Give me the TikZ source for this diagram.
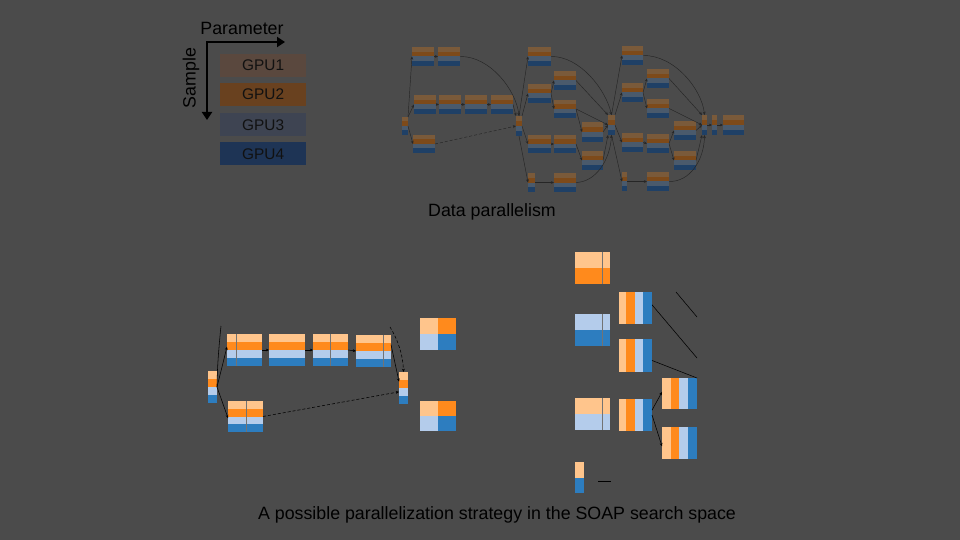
\documentclass[tikz,border=0pt]{standalone}
\usepackage{fontspec}
\setmainfont{Liberation Sans}
\usetikzlibrary{calc,arrows.meta}
\definecolor{bg}{HTML}{4B4B4B}
\definecolor{tA}{HTML}{7A5A3A}
\definecolor{tB}{HTML}{7D4A1A}
\definecolor{tC}{HTML}{4A5A6C}
\definecolor{tD}{HTML}{1F4066}
\definecolor{bA}{HTML}{FFC58C}
\definecolor{bB}{HTML}{FF8A1C}
\definecolor{bC}{HTML}{B4CCEB}
\definecolor{bD}{HTML}{2D7DBF}
\definecolor{gA}{HTML}{5A483E}
\definecolor{gB}{HTML}{69411F}
\definecolor{gC}{HTML}{3E4452}
\definecolor{gD}{HTML}{1E3455}
\definecolor{ink}{HTML}{111111}
\tikzset{
  blk/.style={inner sep=0pt,outer sep=0pt,anchor=north west},
  gpubox/.style={inner sep=0pt,minimum width=86pt,minimum height=23pt,anchor=north west,text=ink,font=\fontsize{15.4}{18}\selectfont},
  tedge/.style={draw=black!85,line width=0.45pt},
  bedge/.style={draw=black,line width=0.55pt},
  arr/.style={-{Stealth[length=3.2pt,width=2.8pt]}},
  dsh/.style={dash pattern=on 3pt off 2pt},
  sep/.style={draw=black!55,line width=0.5pt},
  caption/.style={font=\fontsize{17.8}{20}\selectfont,text=black},
}
% four horizontal stripes inside node #1
\newcommand\hstripe[5]{%
  \fill[#2] (#1.north west) rectangle ($(#1.north east)!0.25!(#1.south east)$);
  \fill[#3] ($(#1.north west)!0.25!(#1.south west)$) rectangle ($(#1.north east)!0.5!(#1.south east)$);
  \fill[#4] ($(#1.north west)!0.5!(#1.south west)$) rectangle ($(#1.north east)!0.75!(#1.south east)$);
  \fill[#5] ($(#1.north west)!0.75!(#1.south west)$) rectangle (#1.south east);}
% four vertical stripes inside node #1
\newcommand\vstripe[2]{%
  \fill[bA] (#1.north west) rectangle ($(#1.south west)!#2!(#1.south east)$);
  \fill[bB] ($(#1.north west)!#2!(#1.north east)$) rectangle ($(#1.south west)!0.48!(#1.south east)$);
  \fill[bC] ($(#1.north west)!0.48!(#1.north east)$) rectangle ($(#1.south west)!0.74!(#1.south east)$);
  \fill[bD] ($(#1.north west)!0.74!(#1.north east)$) rectangle (#1.south east);}
% top (dimmed) block: name, x, y, w, h
\newcommand\tblk[5]{\node[blk,minimum width=#4pt,minimum height=#5pt] (#1) at (#2,#3) {};\hstripe{#1}{tA}{tB}{tC}{tD}}
% bottom block with horizontal stripes: name, x, y, w, h
\newcommand\bblk[5]{\node[blk,minimum width=#4pt,minimum height=#5pt] (#1) at (#2,#3) {};\hstripe{#1}{bA}{bB}{bC}{bD}}
% two halves: name, x, y, w, h, top colour, bottom colour
\newcommand\hhblk[7]{\node[blk,minimum width=#4pt,minimum height=#5pt] (#1) at (#2,#3) {};
  \fill[#6] (#1.north west) rectangle (#1.east);
  \fill[#7] (#1.west) rectangle (#1.south east);}
% vertical-stripe block: name, x, y, w, h, first fraction
\newcommand\vblk[6]{\node[blk,minimum width=#4pt,minimum height=#5pt] (#1) at (#2,#3) {};\vstripe{#1}{#6}}
% separator line at fraction #2 of node #1
\newcommand\sepline[2]{\draw[sep] ($(#1.north west)!#2!(#1.north east)$) -- ($(#1.south west)!#2!(#1.south east)$);}
\begin{document}
\begin{tikzpicture}[x=1pt,y=-1pt]
\fill[bg] (0,0) rectangle (960,540);
\useasboundingbox (0,0) rectangle (960,540);

% ---------- legend ----------
\node[caption,anchor=center] (param) at (242,28) {Parameter};
\node[caption,anchor=center,rotate=90] (sample) at (191,78) {Sample};
\coordinate (ph) at (285,42);
\coordinate (corner) at (207,42);
\coordinate (pv) at (207,120);
\draw[line width=2.4pt,line join=miter,{Triangle[length=8pt,width=10pt]}-{Triangle[length=8pt,width=10pt]}] (ph) -- (corner) -- (pv);
\node[gpubox,fill=gA] (gpu1) at (220,54) {GPU1};
\node[gpubox,fill=gB] (gpu2) at (220,83) {GPU2};
\node[gpubox,fill=gC] (gpu3) at (220,113) {GPU3};
\node[gpubox,fill=gD] (gpu4) at (220,142) {GPU4};

% ---------- data parallelism graph (dimmed) ----------
\tblk{tL}{402}{117}{6}{18}
\tblk{a1}{412}{47}{22}{19}
\tblk{a2}{438}{47}{22}{19}
\tblk{r1}{414}{95}{22}{19}
\tblk{r2}{439}{95}{22}{19}
\tblk{r3}{465}{95}{22}{19}
\tblk{r4}{491}{95}{22}{19}
\tblk{s1}{413}{135}{22}{18}
\tblk{tM}{516}{116}{6}{20}
\tblk{c1}{528}{47}{23}{19}
\tblk{c2}{528}{84}{23}{19}
\tblk{c3}{528}{135}{23}{18}
\tblk{c4}{528}{173}{7}{19}
\tblk{d1}{554}{71}{22}{19}
\tblk{d2}{554}{100}{22}{18}
\tblk{d3}{554}{135}{22}{18}
\tblk{d4}{554}{173}{22}{19}
\tblk{e1}{582}{122}{21}{20}
\tblk{e2}{582}{151}{21}{19}
\tblk{tN}{608}{115}{7}{20}
\tblk{f1}{622}{46}{21}{19}
\tblk{f2}{622}{83}{21}{19}
\tblk{f3}{622}{133}{21}{19}
\tblk{f4}{622}{172}{5}{19}
\tblk{g1}{647}{69}{22}{19}
\tblk{g2}{647}{99}{22}{19}
\tblk{g3}{647}{134}{22}{19}
\tblk{g4}{647}{172}{22}{19}
\tblk{h1}{674}{121}{22}{19}
\tblk{h2}{674}{151}{22}{19}
\tblk{tP}{702}{115}{5}{20}
\tblk{tQ}{712}{115}{5}{20}
\tblk{zz}{723}{115}{21}{20}

\draw[tedge,arr] (tL.north east) -- (a1.west);
\draw[tedge,arr] (tL.north east) -- (r1.west);
\draw[tedge,arr] (tL.east) -- (s1.west);
\draw[tedge,arr] (a1.east) -- (a2.west);
\draw[tedge,arr] (a2.east) .. controls (490,56) and (516,90) .. (tM.north);
\draw[tedge,arr] (r1.east) -- (r2.west);
\draw[tedge,arr] (r2.east) -- (r3.west);
\draw[tedge,arr] (r3.east) -- (r4.west);
\draw[tedge,arr] (r4.east) -- (tM.north west);
\draw[tedge,arr,dsh] (s1.east) -- (tM.west);
\draw[tedge,arr] (tM.north) -- (c1.west);
\draw[tedge,arr] (tM.north east) -- (c2.west);
\draw[tedge,arr] (tM.east) -- (c3.west);
\draw[tedge,arr] (tM.south) -- (c4.west);
\draw[tedge,arr] (c1.east) .. controls (580,56) and (606,90) .. (tN.north);
\draw[tedge,arr] (c2.east) -- (d1.west);
\draw[tedge,arr] (c2.east) -- (d2.west);
\draw[tedge,arr] (c3.east) -- (d3.west);
\draw[tedge,arr] (c4.east) -- (d4.west);
\draw[tedge,arr] (d1.east) -- (tN.north west);
\draw[tedge,arr] (d2.east) -- (tN.west);
\draw[tedge,arr] (d2.east) -- (e1.west);
\draw[tedge,arr] (d3.east) -- (e2.west);
\draw[tedge,arr] (e1.east) -- (tN.west);
\draw[tedge,arr] (e2.east) -- (tN.south west);
\draw[tedge,arr] (d4.east) .. controls (596,182) and (610,160) .. (tN.south);
\draw[tedge,arr] (tN.north) -- (f1.west);
\draw[tedge,arr] (tN.north east) -- (f2.west);
\draw[tedge,arr] (tN.east) -- (f3.west);
\draw[tedge,arr] (tN.south) -- (f4.west);
\draw[tedge,arr] (f1.east) .. controls (675,55) and (702,90) .. (tP.north);
\draw[tedge,arr] (f2.east) -- (g1.west);
\draw[tedge,arr] (f2.east) -- (g2.west);
\draw[tedge,arr] (f3.east) -- (g3.west);
\draw[tedge,arr] (f4.east) -- (g4.west);
\draw[tedge,arr] (g1.east) -- (tP.north west);
\draw[tedge,arr] (g2.east) -- (tP.west);
\draw[tedge,arr] (g3.east) -- (h1.west);
\draw[tedge,arr] (g3.east) -- (h2.west);
\draw[tedge,arr] (h1.east) -- (tP.west);
\draw[tedge,arr] (h2.east) -- (tP.south west);
\draw[tedge,arr] (g4.east) .. controls (690,182) and (704,160) .. (tP.south);
\draw[tedge,arr] (tP.east) -- (tQ.west);
\draw[tedge,arr] (tQ.east) -- (zz.west);

\node[caption] (dpcap) at (492,212) {Data parallelism};

% ---------- bottom left graph ----------
\bblk{bl}{208}{371}{9}{32}
\bblk{B1}{227}{334}{35}{32}
\bblk{B2}{269}{334}{36}{32}
\bblk{B3}{313}{334}{35}{32}
\bblk{B4}{356}{335}{35}{32}
\bblk{br}{399}{372}{9}{32}
\bblk{B5}{228}{401}{35}{31}
\sepline{B1}{0.26}
\sepline{B3}{0.49}
\sepline{B4}{0.77}
\sepline{B5}{0.51}
\coordinate (blin) at (221,326);
\coordinate (brin) at (390,327);
\draw[bedge] (blin) .. controls (219,345) and (217,370) .. (bl.east);
\draw[bedge,arr] (bl.east) -- ($(B1.north west)!0.4!(B1.south west)$);
\draw[bedge,arr] (bl.east) -- ($(B5.north west)!0.55!(B5.south west)$);
\draw[bedge,arr] (B1.east) -- (B2.west);
\draw[bedge,arr] (B2.east) -- (B3.west);
\draw[bedge,arr] (B3.east) -- (B4.west);
\draw[bedge,arr] ($(B4.north east)!0.3!(B4.south east)$) -- ($(br.north west)!0.3!(br.south west)$);
\draw[bedge,arr,dsh] (brin) .. controls (398,340) and (403,355) .. (br.north);
\draw[bedge,arr,dsh] (B5.east) -- ($(br.north west)!0.62!(br.south west)$);

% ---------- bottom middle squares ----------
\node[blk,minimum width=36pt,minimum height=32pt] (C1) at (420,318) {};
\fill[bA] (C1.north west) rectangle (C1.center);
\fill[bB] (C1.north) rectangle (C1.east);
\fill[bC] (C1.west) rectangle (C1.south);
\fill[bD] (C1.center) rectangle (C1.south east);
\node[blk,minimum width=36pt,minimum height=30pt] (C2) at (420,401) {};
\fill[bA] (C2.north west) rectangle (C2.center);
\fill[bB] (C2.north) rectangle (C2.east);
\fill[bC] (C2.west) rectangle (C2.south);
\fill[bD] (C2.center) rectangle (C2.south east);

% ---------- bottom right tree ----------
\hhblk{D1}{575}{252}{35}{32}{bA}{bB}
\hhblk{D2}{575}{314}{35}{32}{bC}{bD}
\hhblk{D3}{575}{398}{35}{32}{bA}{bC}
\hhblk{H1}{575}{462}{9}{31}{bA}{bD}
\sepline{D1}{0.77}
\sepline{D2}{0.77}
\sepline{D3}{0.77}
\vblk{E1}{619}{292}{33}{32}{0.2}
\vblk{E2}{619}{339}{33}{33}{0.2}
\vblk{E3}{619}{399}{33}{32}{0.2}
\vblk{G1}{662}{378}{35}{31}{0.25}
\vblk{G2}{662}{427}{35}{32}{0.25}
\coordinate (k1a) at (676,292);
\coordinate (k1b) at (697,317);
\coordinate (k2) at (697,358);
\coordinate (k3a) at (598,481);
\coordinate (k3b) at (611,481);
\draw[bedge] (k1a) -- (k1b);
\draw[bedge] ($(E1.north east)!0.4!(E1.south east)$) -- (k2);
\draw[bedge] ($(E2.north east)!0.65!(E2.south east)$) -- (G1.north east);
\draw[bedge,arr] ($(E3.north east)!0.35!(E3.south east)$) -- ($(G1.north west)!0.45!(G1.south west)$);
\draw[bedge,arr] ($(E3.north east)!0.5!(E3.south east)$) -- ($(G2.north west)!0.6!(G2.south west)$);
\draw[bedge] (k3a) -- (k3b);

\node[caption] (socap) at (497,515) {A possible parallelization strategy in the SOAP search space};
\end{tikzpicture}
\end{document}
